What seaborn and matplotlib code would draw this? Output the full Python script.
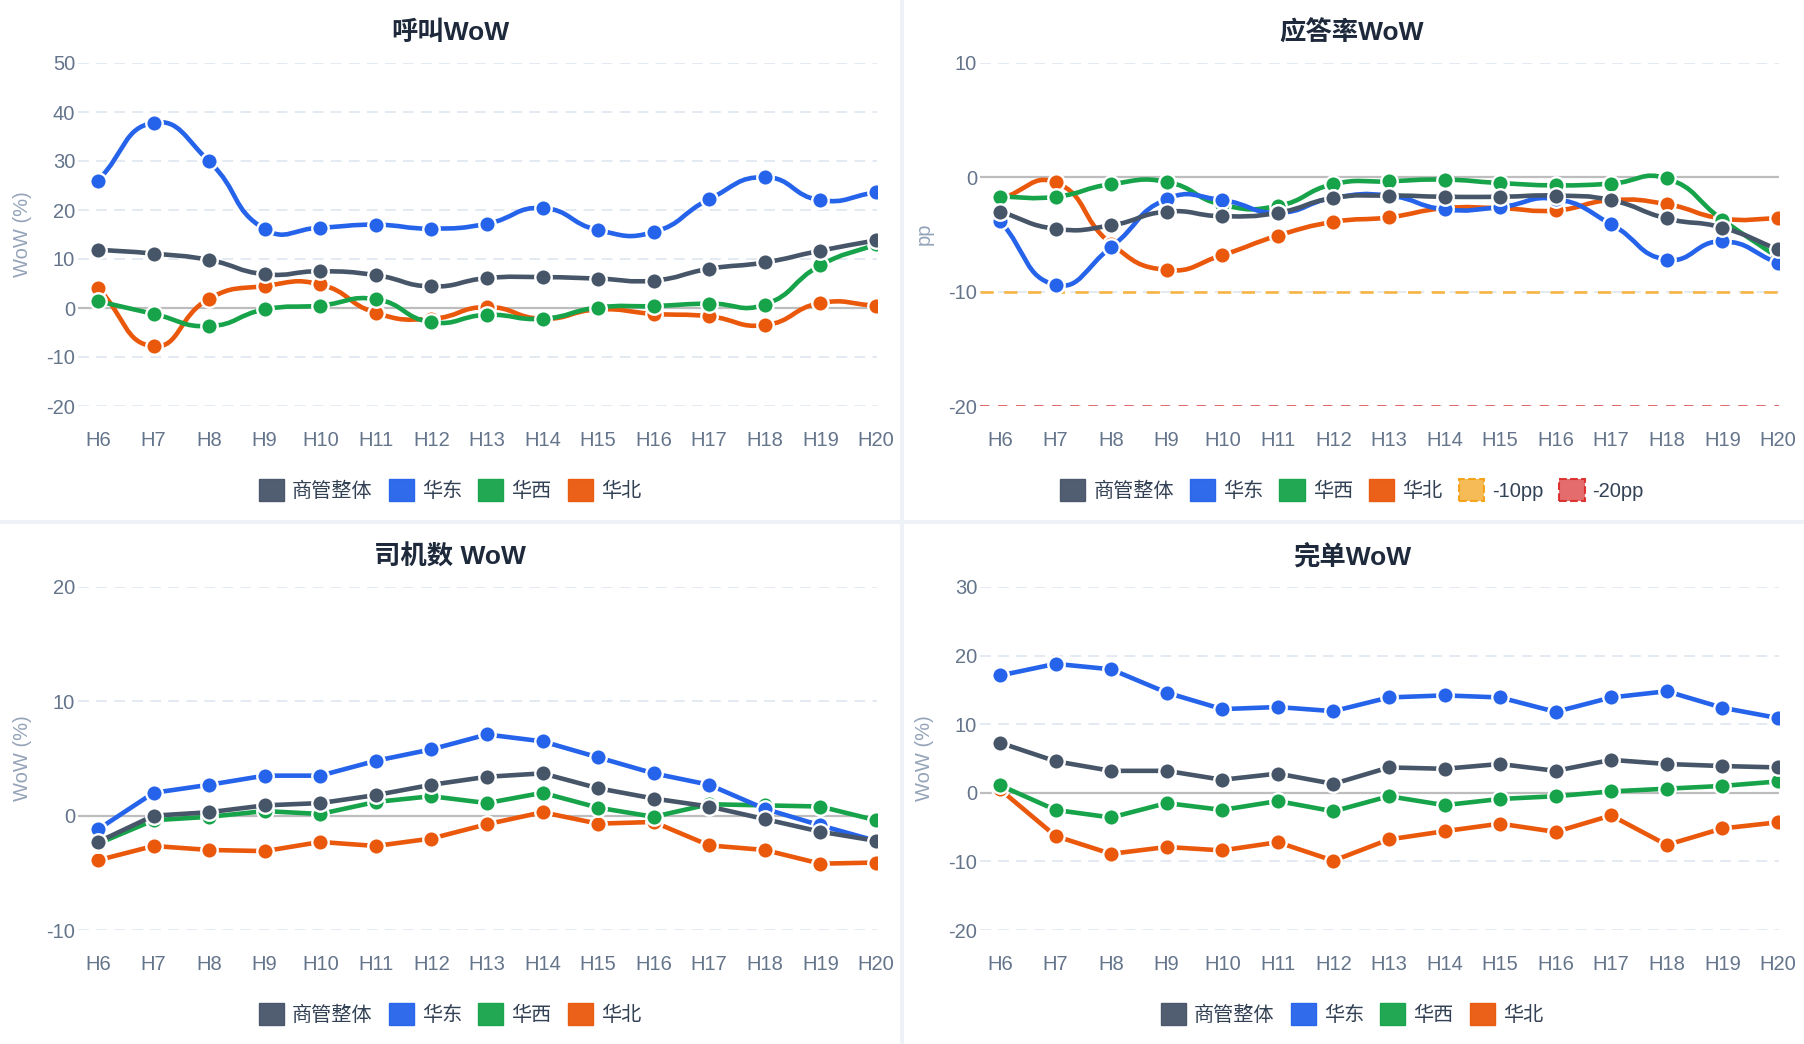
import numpy as np
import pandas as pd
import matplotlib
matplotlib.use("Agg")
import matplotlib.pyplot as plt
from matplotlib.path import Path
from matplotlib.patches import PathPatch, Patch, Rectangle
import seaborn as sns

# ==========================================
# Data
# ==========================================
hours = ['H6', 'H7', 'H8', 'H9', 'H10', 'H11', 'H12', 'H13', 'H14',
         'H15', 'H16', 'H17', 'H18', 'H19', 'H20']
series_names = ['商管整体', '华东', '华西', '华北']

call_total = [11.9, 11.1, 9.8, 6.9, 7.5, 6.7, 4.4, 6.1, 6.3, 6.0, 5.6, 8.0, 9.3, 11.7, 13.8]
call_east = [26.0, 37.8, 29.9, 16.1, 16.4, 17.0, 16.2, 17.2, 20.4, 15.9, 15.5, 22.2, 26.7, 22.0, 23.6]
call_west = [1.4, -1.2, -3.7, -0.3, 0.5, 1.8, -2.9, -1.4, -2.2, 0.1, 0.4, 0.9, 0.7, 8.7, 13.0]
call_north = [4.1, -7.8, 1.9, 4.5, 4.8, -1.0, -2.2, 0.2, -2.2, -0.3, -1.2, -1.7, -3.5, 1.0, 0.5]

ans_total = [-3.0, -4.5, -4.2, -3.0, -3.4, -3.1, -1.8, -1.6, -1.7, -1.7, -1.6, -2.0, -3.6, -4.4, -6.3]
ans_east = [-3.8, -9.4, -6.1, -1.9, -2.0, -3.1, -1.8, -1.6, -2.8, -2.6, -1.9, -4.1, -7.2, -5.6, -7.5]
ans_west = [-1.7, -1.7, -0.6, -0.4, -2.4, -2.5, -0.6, -0.35, -0.2, -0.5, -0.7, -0.55, -0.1, -3.7, -7.0]
ans_north = [-1.9, -0.45, -5.8, -8.1, -6.8, -5.1, -3.9, -3.5, -2.7, -2.7, -2.9, -2.0, -2.35, -3.6, -3.6]
ans_refs = [-10, -20]
ans_ref_names = ['-10pp', '-20pp']

drv_total = [-2.3, 0.0, 0.3, 0.9, 1.1, 1.8, 2.7, 3.4, 3.7, 2.4, 1.5, 0.8, -0.3, -1.4, -2.2]
drv_east = [-1.2, 2.0, 2.7, 3.5, 3.5, 4.8, 5.8, 7.1, 6.5, 5.1, 3.7, 2.7, 0.6, -0.85, -2.2]
drv_west = [-2.45, -0.4, -0.1, 0.4, 0.15, 1.2, 1.7, 1.1, 2.0, 0.7, -0.1, 1.0, 0.9, 0.8, -0.4]
drv_north = [-3.9, -2.65, -3.0, -3.1, -2.3, -2.65, -2.0, -0.75, 0.3, -0.7, -0.55, -2.6, -3.0, -4.2, -4.1]

done_total = [7.3, 4.6, 3.2, 3.2, 1.9, 2.8, 1.3, 3.7, 3.5, 4.2, 3.2, 4.8, 4.2, 3.9, 3.7]
done_east = [17.1, 18.8, 18.0, 14.6, 12.2, 12.5, 11.9, 13.9, 14.2, 13.9, 11.8, 13.9, 14.8, 12.4, 10.9]
done_west = [1.1, -2.5, -3.6, -1.5, -2.5, -1.2, -2.7, -0.5, -1.8, -0.9, -0.5, 0.2, 0.6, 1.0, 1.65]
done_north = [0.5, -6.3, -8.9, -7.9, -8.4, -7.2, -9.9, -6.8, -5.6, -4.5, -5.7, -3.3, -7.6, -5.2, -4.3]

colors = ['#475569', '#2563eb', '#16a34a', '#ea580c']
ref_colors = ['#f6b445', '#e25c5c']

# ==========================================
# Style
# ==========================================
sns.set_theme(style='white')
plt.rcParams['font.family'] = ['Liberation Sans', 'Noto Sans CJK SC', 'DejaVu Sans']
plt.rcParams['axes.unicode_minus'] = False

W, H = 1804, 1044
LW = 3.3
fig = plt.figure(figsize=(W / 100, H / 100), dpi=100)
fig.patch.set_facecolor('#eef2f6')

# white panels with thin light gaps between them
for (px, py, pw, ph) in [(0, 0, 900, 520), (904, 0, 900, 520),
                         (0, 524, 900, 520), (904, 524, 900, 520)]:
    fig.add_artist(Rectangle((px / W, 1 - (py + ph) / H), pw / W, ph / H,
                             transform=fig.transFigure, facecolor='white',
                             edgecolor='none', zorder=0))


def smooth_curve(ax, xs, ys, sx, sy, color, z, smooth=0.5):
    # Bezier path like a smoothed line chart (control points in pixel space)
    p = np.column_stack([np.asarray(xs, float) * sx, np.asarray(ys, float) * sy])
    n = len(p)
    cin, cout = np.zeros_like(p), np.zeros_like(p)
    for i in range(n):
        prev = p[i - 1] if i > 0 else p[i]
        nxt = p[i + 1] if i < n - 1 else p[i]
        v = (nxt - prev) * smooth
        d0, d1 = np.linalg.norm(p[i] - prev), np.linalg.norm(p[i] - nxt)
        s = d0 + d1
        if s:
            d0, d1 = d0 / s, d1 / s
        cin[i] = p[i] - v * d0
        cout[i] = p[i] + v * d1
    verts, codes = [p[0]], [Path.MOVETO]
    for i in range(n - 1):
        verts += [cout[i], cin[i + 1], p[i + 1]]
        codes += [Path.CURVE4] * 3
    verts = np.array(verts) / np.array([sx, sy])
    ax.add_patch(PathPatch(Path(verts, codes), facecolor='none', edgecolor=color,
                           lw=LW, capstyle='round', joinstyle='round', zorder=z))


def draw_panel(px0, py0, title, ylabel, ylim, yticks, data, smooth, refs=None):
    # axes area in pixels relative to panel origin
    left, right, top, bottom = px0 + 78, px0 + 877, py0 + 63, py0 + 406
    ax = fig.add_axes([left / W, 1 - bottom / H, (right - left) / W, (bottom - top) / H])
    ax.set_facecolor('none')
    x = np.arange(len(hours))
    ax.set_xlim(-0.36, 14.02)
    ax.set_ylim(*ylim)
    for yt in yticks:
        if yt != 0:
            ax.axhline(yt, color='#e2e8f0', lw=1.3, ls=(0, (6, 4)), zorder=1)
    ax.axhline(0, color='#bdbdbd', lw=1.6, zorder=1.5)
    if refs:
        for val, c, dash, w in zip(ans_refs, ref_colors, [(0, (5, 4)), (0, (5, 5))], [1.9, 1.3]):
            ax.axhline(val, color=c, lw=w, ls=dash, zorder=2)

    sx = (right - left) / (14.02 + 0.36)
    sy = (bottom - top) / (ylim[1] - ylim[0])
    # draw in reverse so 商管整体 ends up on top
    for k in reversed(range(len(data))):
        vals = data[k]
        z = 3 + (len(data) - k)
        if smooth:
            smooth_curve(ax, x, vals, sx, sy, colors[k], z)
        else:
            df = pd.DataFrame({'x': x, 'y': vals})
            sns.lineplot(data=df, x='x', y='y', ax=ax, color=colors[k], lw=LW,
                         zorder=z, legend=False)
        sns.scatterplot(x=x, y=vals, ax=ax, color=colors[k], s=140,
                        edgecolor='white', linewidth=1.7, zorder=z + 0.5, legend=False)

    ax.set_xticks(x)
    ax.set_xticklabels(hours)
    ax.set_yticks(yticks)
    ax.set_yticklabels([str(t) for t in yticks])
    ax.tick_params(axis='x', length=0, pad=18, labelsize=14.5, labelcolor='#64748b')
    ax.tick_params(axis='y', length=0, pad=2, labelsize=14.5, labelcolor='#64748b')
    for sp in ax.spines.values():
        sp.set_visible(False)
    ax.set_xlabel('')
    ax.set_ylabel('')
    fig.text((px0 + 22) / W, 1 - (py0 + 234) / H, ylabel, rotation=90,
             ha='center', va='center', fontsize=14.5, color='#94a3b8')
    fig.text((px0 + 450) / W, 1 - (py0 + 33) / H, title, ha='center', va='center',
             fontsize=19, fontweight='bold', color='#1e293b')

    handles = [Patch(facecolor=c, edgecolor=c, alpha=0.95) for c in colors]
    labels = list(series_names)
    if refs:
        handles += [Patch(facecolor=ref_colors[0], edgecolor='#f59e0b', ls='--', lw=1.5, alpha=0.9),
                    Patch(facecolor=ref_colors[1], edgecolor='#dc2626', ls='--', lw=1.5, alpha=0.9)]
        labels += ans_ref_names
    fig.legend(handles, labels, loc='center', ncol=len(labels),
               bbox_to_anchor=((px0 + 450) / W, 1 - (py0 + 490) / H),
               frameon=False, fontsize=14.5, handlelength=1.25, handleheight=1.25,
               handletextpad=0.4, columnspacing=0.8, labelcolor='#334155')
    return ax


draw_panel(0, 0, '呼叫WoW', 'WoW (%)', (-20, 50), [-20, -10, 0, 10, 20, 30, 40, 50],
           [call_total, call_east, call_west, call_north], smooth=True)
draw_panel(902, 0, '应答率WoW', 'pp', (-20, 10), [-20, -10, 0, 10],
           [ans_total, ans_east, ans_west, ans_north], smooth=True, refs=True)
draw_panel(0, 524, '司机数 WoW', 'WoW (%)', (-10, 20), [-10, 0, 10, 20],
           [drv_total, drv_east, drv_west, drv_north], smooth=False)
draw_panel(902, 524, '完单WoW', 'WoW (%)', (-20, 30), [-20, -10, 0, 10, 20, 30],
           [done_total, done_east, done_west, done_north], smooth=False)

fig.savefig('out.png', dpi=100, facecolor=fig.get_facecolor())
